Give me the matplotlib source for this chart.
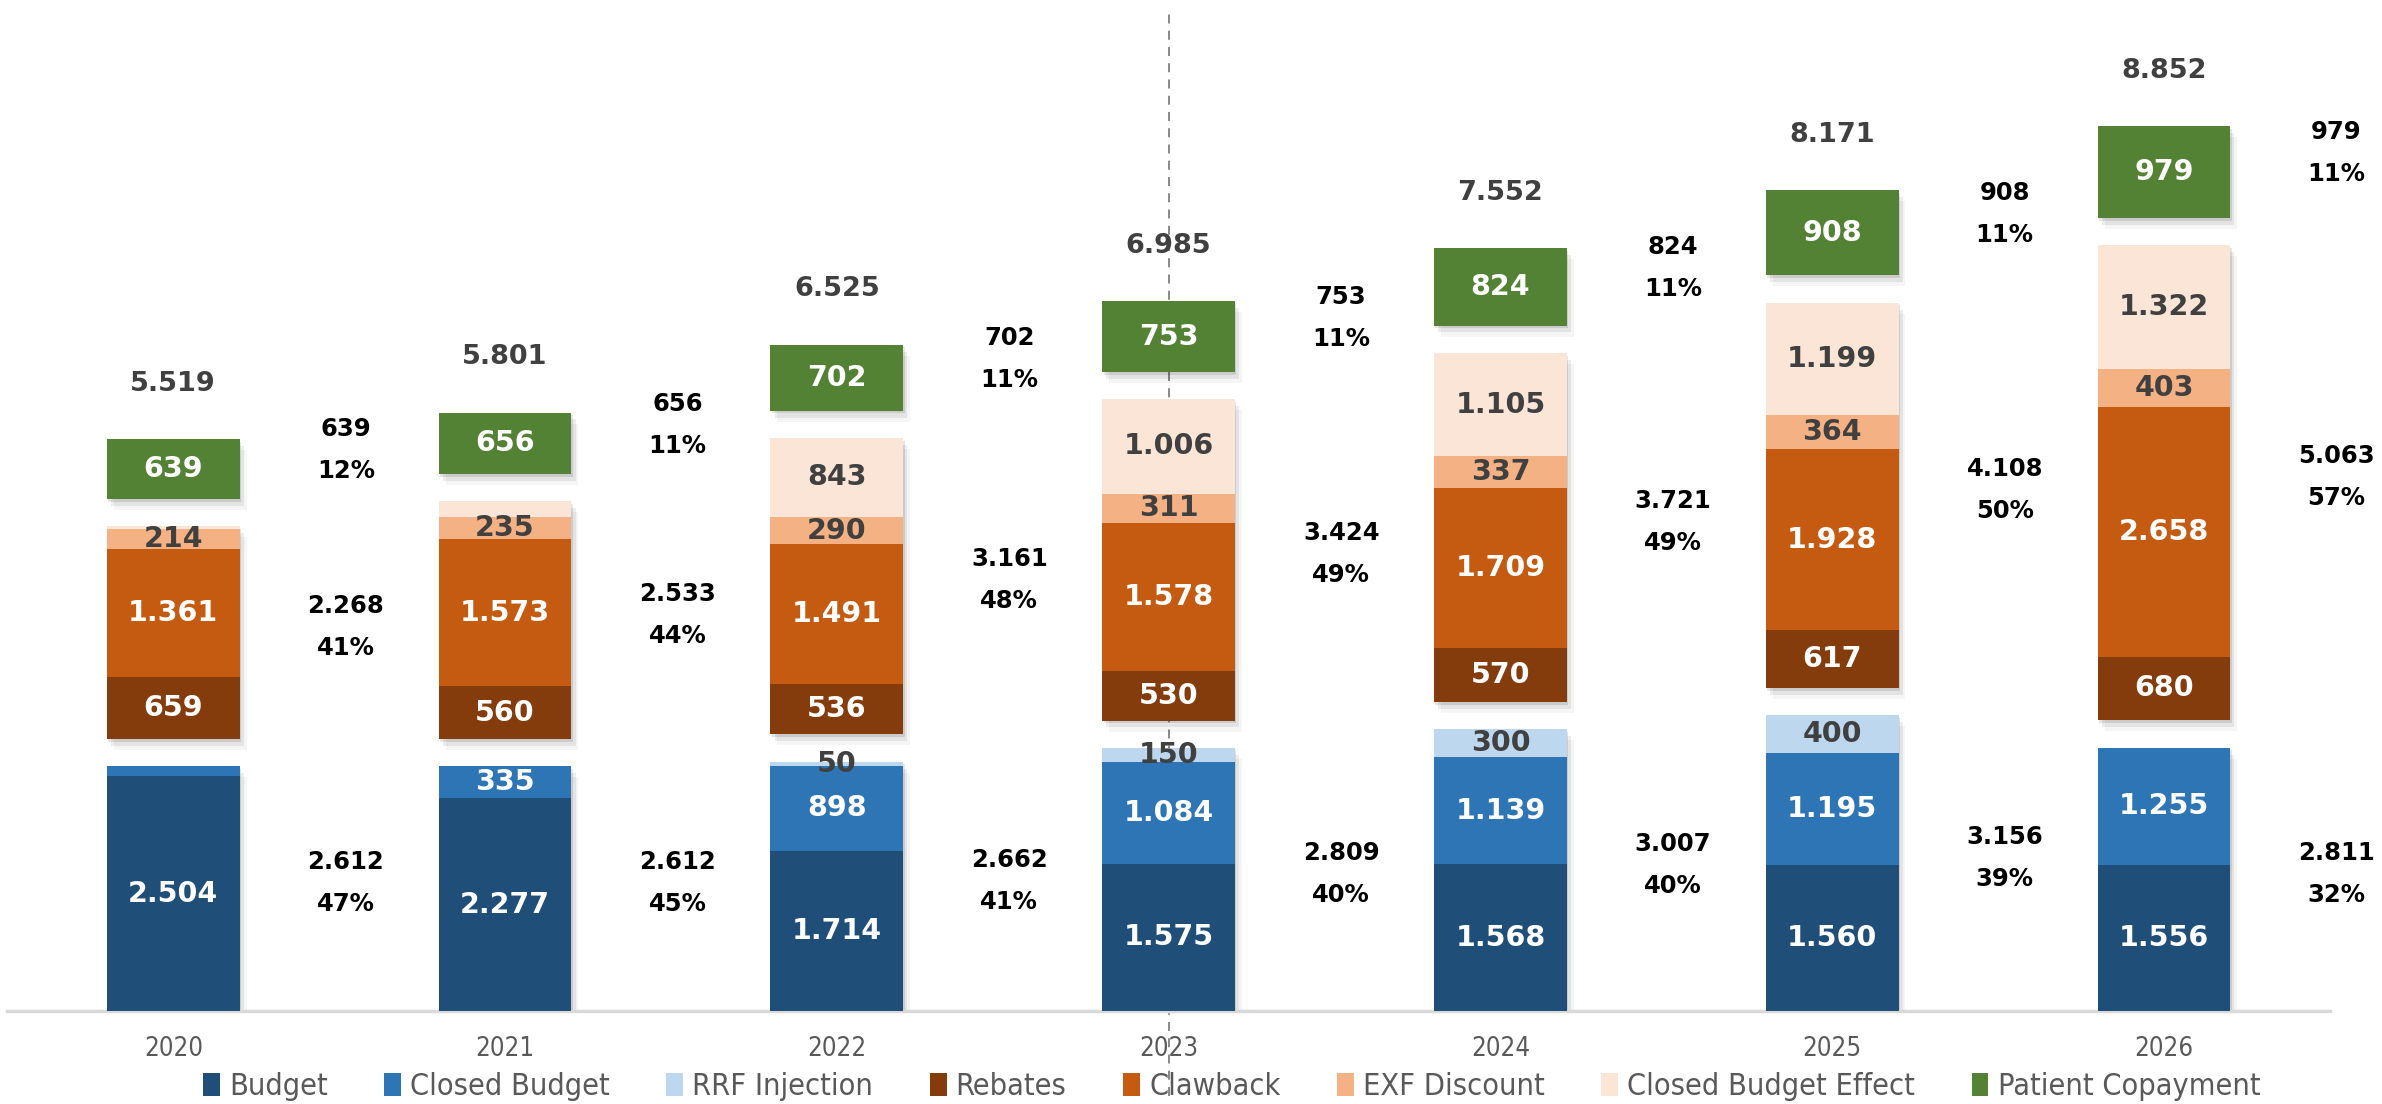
import matplotlib
matplotlib.use('Agg')
import matplotlib.pyplot as plt
import matplotlib.patheffects as pe
from matplotlib.patches import Patch
from matplotlib.font_manager import FontProperties
import numpy as np

# data (thousands separator is '.')
years = ['2020', '2021', '2022', '2023', '2024', '2025', '2026']
budget = [2504, 2277, 1714, 1575, 1568, 1560, 1556]
closed_budget = [108, 335, 898, 1084, 1139, 1195, 1255]
rrf_injection = [0, 0, 50, 150, 300, 400, 0]
rebates = [659, 560, 536, 530, 570, 617, 680]
clawback = [1361, 1573, 1491, 1578, 1709, 1928, 2658]
exf_discount = [214, 235, 290, 311, 337, 364, 403]
closed_budget_effect = [34, 165, 843, 1006, 1105, 1199, 1322]
patient_copayment = [639, 656, 702, 753, 824, 908, 979]

group1_total = [2612, 2612, 2662, 2809, 3007, 3156, 2811]
group2_total = [2268, 2533, 3161, 3424, 3721, 4108, 5063]
grand_total = [5519, 5801, 6525, 6985, 7552, 8171, 8852]

GAP = 290  # empty space between the three blocks of each bar

series = [
    ('Budget', budget, '#1F4E79', 'white', 1),
    ('Closed Budget', closed_budget, '#2E75B6', 'white', 1),
    ('RRF Injection', rrf_injection, '#BDD7EE', '#404040', 1),
    ('Rebates', rebates, '#843C0C', 'white', 2),
    ('Clawback', clawback, '#C55A11', 'white', 2),
    ('EXF Discount', exf_discount, '#F4B183', '#404040', 2),
    ('Closed Budget Effect', closed_budget_effect, '#FBE5D6', '#404040', 2),
    ('Patient Copayment', patient_copayment, '#548235', 'white', 3),
]
# segments whose value label is not shown in the original
hidden = {('Closed Budget', 0), ('Closed Budget Effect', 0), ('Closed Budget Effect', 1)}


def fmt(v):
    return f'{v:,}'.replace(',', '.')


NUM_FONT = ['DejaVu Sans']
narrow = FontProperties(family=['DejaVu Sans'], stretch='condensed', size=18.5)

fig = plt.figure(figsize=(23.82, 11.04), dpi=100)
ax = fig.add_axes([0.0031, 0.0839, 0.975, 0.9161])

x = np.arange(len(years))
width = 0.4

g1_top = np.array(budget) + np.array(closed_budget) + np.array(rrf_injection)
g2_base = g1_top + GAP
g2_top = g2_base + np.array(rebates) + np.array(clawback) + np.array(exf_discount) + np.array(closed_budget_effect)
g3_base = g2_top + GAP
g3_top = g3_base + np.array(patient_copayment)

bases = {1: np.zeros(len(years)), 2: g2_base.astype(float), 3: g3_base.astype(float)}
block_bottom = {1: np.zeros(len(years)), 2: g2_base, 3: g3_base}
block_top = {1: g1_top, 2: g2_top, 3: g3_top}

# soft drop shadow for each block
shadow = [pe.SimplePatchShadow(offset=(1, -2), shadow_rgbFace='black', alpha=0.10),
          pe.SimplePatchShadow(offset=(3, -5), shadow_rgbFace='black', alpha=0.07),
          pe.SimplePatchShadow(offset=(5, -8), shadow_rgbFace='black', alpha=0.04),
          pe.Normal()]
for b in (1, 2, 3):
    bars = ax.bar(x, block_top[b] - block_bottom[b], width, bottom=block_bottom[b],
                  color='white', linewidth=0, zorder=2)
    for p in bars:
        p.set_path_effects(shadow)

for name, vals, color, tcolor, blk in series:
    vals = np.array(vals)
    bottom = bases[blk].copy()
    ax.bar(x, vals, width, bottom=bottom, color=color, linewidth=0, zorder=3, label=name)
    for i, v in enumerate(vals):
        if v <= 0 or (name, i) in hidden:
            continue
        ax.text(x[i], bottom[i] + v / 2, fmt(v), ha='center', va='center',
                color=tcolor, fontsize=20.5, fontweight='bold', family=NUM_FONT, zorder=5)
    bases[blk] = bottom + vals

# block totals and shares to the right of each bar
for i in range(len(years)):
    tot = grand_total[i]
    for val, y in ((group1_total[i], (0 + g1_top[i]) / 2 + 60),
                   (group2_total[i], (g2_base[i] + g2_top[i]) / 2 + 60),
                   (patient_copayment[i], (g3_base[i] + g3_top[i]) / 2 + 200)):
        ax.text(x[i] + 0.52, y, f'{fmt(val)}\n{round(100 * val / tot)}%', ha='center', va='center',
                fontsize=17.5, fontweight='bold', family=NUM_FONT, color='black',
                linespacing=1.95, zorder=5)
    ax.text(x[i], g3_top[i] + 590, fmt(tot), ha='center', va='center', fontsize=19.5,
            fontweight='bold', family=NUM_FONT, color='#404040', zorder=5)

ax.axvline(3, ymin=-0.084, ymax=0.99, clip_on=False, color='#7F7F7F',
           linestyle=(0, (5, 4)), linewidth=1.3, zorder=1)

ax.set_xlim(-0.5, 6.5)
ax.set_ylim(0, 10777)
ax.set_xticks(x)
ax.set_xticklabels(years, color='#595959', fontproperties=narrow)
ax.tick_params(axis='x', length=0, pad=18)
ax.set_yticks([])
for s in ('top', 'right', 'left'):
    ax.spines[s].set_visible(False)
ax.spines['bottom'].set_color('#D9D9D9')
ax.spines['bottom'].set_linewidth(2.5)

handles = [Patch(facecolor=c, edgecolor='none') for _, _, c, _, _ in series]
labels = [n for n, _, _, _, _ in series]
leg_font = FontProperties(family=['DejaVu Sans'], stretch='condensed', size=22)
fig.legend(handles, labels, loc='center', bbox_to_anchor=(0.517, 0.016), ncol=8,
           frameon=False, handlelength=0.55, handleheight=0.8, handletextpad=0.3,
           columnspacing=1.85, labelcolor='#595959', prop=leg_font)

fig.savefig('out.png', dpi=100)
